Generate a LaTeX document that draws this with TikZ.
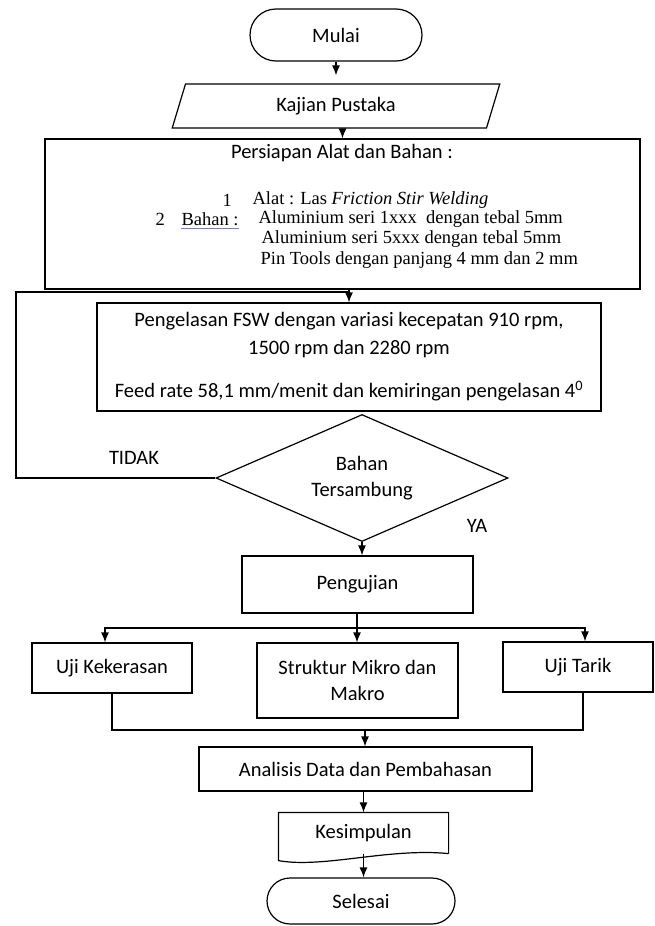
\documentclass[tikz,border=0pt]{standalone}
\usepackage{fontspec}
\setmainfont{Carlito}
\newfontfamily\timesfont{Liberation Serif}
\usetikzlibrary{arrows.meta,positioning,calc,shapes.geometric}

\begin{document}
\begin{tikzpicture}[x=1pt, y=-1pt, line width=1.2pt,
    every node/.style={font=\fontsize{20.5}{28}\selectfont},
    proc/.style={draw, inner sep=0pt},
    term/.style={draw, rounded corners=23pt, inner sep=0pt},
    tnr/.style={font=\timesfont\fontsize{18.5}{22}\selectfont, anchor=west, inner sep=0pt},
    arr/.style={-{Latex[length=10pt,width=8pt]}}]
    \useasboundingbox (0,0) rectangle (654,926);
    % terminal, input, preparation
    \node[term, rounded corners=26pt, minimum width=172pt, minimum height=52pt] (mulai) at (336,35) {Mulai};
    \node[draw, trapezium, trapezium left angle=73.5, trapezium right angle=106.5, trapezium stretches=true,
      minimum width=328pt, minimum height=44pt, inner sep=0pt] (kajian) at (336,106) {Kajian Pustaka};
    \node[proc, minimum width=595pt, minimum height=150pt] (persiapan) at (342.5,214) {};
    \node (judul) at (342,153) {Persiapan Alat dan Bahan :};
    \node[tnr] (no1) at (222,200) {1};
    \node[tnr] (alat) at (252,200) {Alat : Las \textit{Friction Stir Welding}};
    \node[tnr] (no2) at (155,219) {2};
    \node[tnr] (bahan) at (181,219) {Bahan :};
    \node[tnr] (al1) at (258,219) {Aluminium seri 1xxx\ \ dengan tebal\ 5mm};
    \node[tnr] (al5) at (261,239) {Aluminium seri 5xxx dengan tebal 5mm};
    \node[tnr] (pin) at (260,260) {Pin Tools dengan panjang 4 mm dan 2 mm};
    \draw[blue!55, line width=0.8pt] ([yshift=-2pt]bahan.south west) -- ([yshift=-2pt]bahan.south east);
    % welding and check
    \node[proc, minimum width=504pt, minimum height=108pt, align=center] (pengelasan) at (349,357)
      {Pengelasan FSW dengan variasi kecepatan 910 rpm,\\1500 rpm dan 2280 rpm\\[15pt]Feed rate 58,1 mm/menit dan kemiringan pengelasan 4\textsuperscript{0}};
    \node[draw, diamond, aspect=2.3, minimum width=292pt, minimum height=127pt, inner sep=0pt,
      align=center, font=\fontsize{20.5}{26}\selectfont] (cek) at (362,478) {Bahan\\Tersambung};
    \node (tidak) at (134,458) {TIDAK};
    \node (ya) at (477,526) {YA};
    % tests
    \node[proc, minimum width=231pt, minimum height=57pt] (pengujian) at (357.5,584.5) {Pengujian};
    \node[proc, minimum width=160pt, minimum height=50pt] (kekerasan) at (112,668) {Uji Kekerasan};
    \node[proc, minimum width=201pt, minimum height=75pt, align=center, font=\fontsize{20.5}{26}\selectfont]
      (struktur) at (357.5,680.5) {Struktur Mikro dan\\Makro};
    \node[proc, minimum width=150pt, minimum height=50pt] (tarik) at (578,667) {Uji Tarik};
    % end
    \node[proc, minimum width=333pt, minimum height=44pt] (analisis) at (365.5,769) {Analisis Data dan Pembahasan};
    \node[minimum width=169pt, minimum height=40pt, inner sep=0pt] (kesimpulan) at (363.5,833) {Kesimpulan};
    \draw (kesimpulan.south east) -- (kesimpulan.north east) -- (kesimpulan.north west)
      -- ([yshift=-7pt]kesimpulan.south west) .. controls +(45,8) and +(-60,-6) .. (kesimpulan.south east);
    \node[term, minimum width=188pt, minimum height=46pt] (selesai) at (361,901) {Selesai};
    \coordinate (balik) at (16,292);
    \coordinate (bagi) at (357,628);
    \coordinate (gabung) at (365,730);
    % connectors
    \draw[arr, shorten >=8pt] (mulai) -- (kajian);
    \draw[arr] (kajian.south -| persiapan.north) -- (persiapan.north);
    \draw[arr] (persiapan.south -| pengelasan.north) -- (pengelasan.north);
    \draw (cek.west) -| (balik) -- (balik -| pengelasan.north);
    \draw[arr] (cek.south) -- (cek.south |- pengujian.north);
    \draw (pengujian.south -| bagi) -- (bagi);
    \draw[arr] (bagi) -| ([xshift=-7pt]kekerasan.north);
    \draw[arr] (bagi) -- (bagi |- struktur.north);
    \draw[arr] (bagi) -| ([xshift=7pt]tarik.north);
    \draw (kekerasan.south) |- (gabung) -| ([xshift=5pt]tarik.south);
    \draw[arr] (gabung) -- (gabung |- analisis.north);
    \draw[arr] (analisis.south -| kesimpulan.north) -- (kesimpulan.north);
    \draw[arr] (kesimpulan.south) -- (kesimpulan.south |- selesai.north);
\end{tikzpicture}
\end{document}
